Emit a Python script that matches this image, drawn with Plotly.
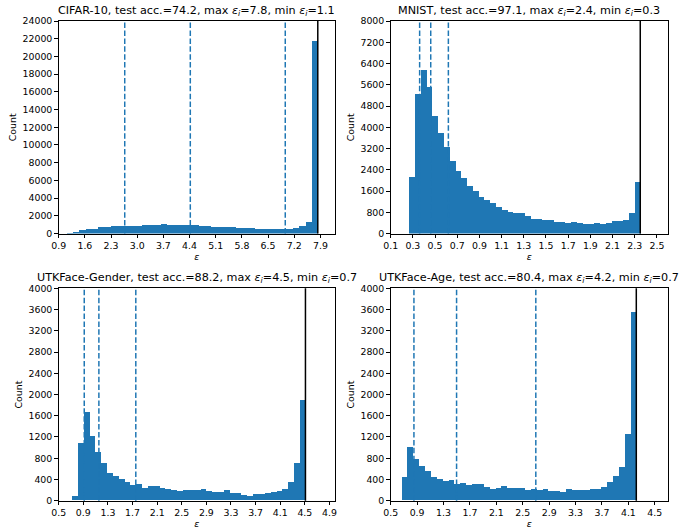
import plotly.graph_objects as go
import numpy as np

# counts per bin (40 bins each)
cifar_counts = [50, 170, 395, 508, 508, 733, 733, 846, 846, 846,
                846, 846, 959, 959, 959, 1072, 997, 997, 997, 997,
                997, 846, 846, 733, 733, 733, 733, 620, 620, 620,
                508, 508, 508, 508, 508, 470, 583, 808, 1297, 21740]
mnist_counts = [2119, 5242, 6145, 5505, 4414, 3775, 3248, 2721, 2345, 2082,
                1781, 1593, 1367, 1254, 1141, 991, 878, 803, 765, 765,
                652, 564, 564, 510, 500, 426, 426, 389, 426, 389,
                351, 351, 389, 351, 389, 464, 464, 502, 777, 1931]
gender_counts = [88, 1080, 1660, 1210, 912, 706, 519, 462, 406, 350,
                 294, 300, 238, 262, 269, 238, 219, 187, 169, 187,
                 200, 200, 212, 181, 162, 162, 200, 144, 131, 106,
                 88, 125, 125, 144, 162, 181, 219, 344, 706, 1890]
age_counts = [437, 1006, 781, 650, 556, 444, 406, 369, 387, 312,
              331, 294, 312, 312, 256, 219, 238, 275, 238, 238,
              238, 200, 219, 200, 219, 181, 181, 162, 219, 200,
              200, 200, 219, 219, 256, 350, 462, 631, 1250, 3548]

# epsilon range of each histogram (min eps, max eps)
cifar_eps = [1.105, 7.83]
mnist_eps = [0.265, 2.35]
gender_eps = [0.711, 4.51]
age_eps = [0.66, 4.22]

# dashed vertical markers
cifar_marks = [2.666, 4.42, 6.96]
mnist_marks = [0.361, 0.461, 0.62]
gender_marks = [0.915, 1.153, 1.753]
age_marks = [0.852, 1.498, 2.698]

titles = [
    'CIFAR-10, test acc.=74.2, max <i>ε<sub>i</sub></i>=7.8, min <i>ε<sub>i</sub></i>=1.1',
    'MNIST, test acc.=97.1, max <i>ε<sub>i</sub></i>=2.4, min <i>ε<sub>i</sub></i>=0.3',
    'UTKFace-Gender, test acc.=88.2, max <i>ε<sub>i</sub></i>=4.5, min <i>ε<sub>i</sub></i>=0.7',
    'UTKFace-Age, test acc.=80.4, max <i>ε<sub>i</sub></i>=4.2, min <i>ε<sub>i</sub></i>=0.7',
]

cifar_xticks = [0.9, 1.6, 2.3, 3.0, 3.7, 4.4, 5.1, 5.8, 6.5, 7.2, 7.9]
mnist_xticks = [0.1, 0.3, 0.5, 0.7, 0.9, 1.1, 1.3, 1.5, 1.7, 1.9, 2.1, 2.3, 2.5]
gender_xticks = [0.5, 0.9, 1.3, 1.7, 2.1, 2.5, 2.9, 3.3, 3.7, 4.1, 4.5, 4.9]
age_xticks = [0.5, 0.9, 1.3, 1.7, 2.1, 2.5, 2.9, 3.3, 3.7, 4.1, 4.5]

cifar_yticks = list(range(0, 24001, 2000))
mnist_yticks = list(range(0, 8001, 800))
utk_yticks = list(range(0, 4001, 400))

blue = '#1f77b4'
font = 'DejaVu Sans'

panels = [
    dict(counts=cifar_counts, eps=cifar_eps, marks=cifar_marks, xticks=cifar_xticks,
         yticks=cifar_yticks, xr=[0.9, 8.29], yr=[0, 24000],
         xd=[0.0862, 0.4919], yd=[0.5586, 0.9603]),
    dict(counts=mnist_counts, eps=mnist_eps, marks=mnist_marks, xticks=mnist_xticks,
         yticks=mnist_yticks, xr=[0.1, 2.6], yr=[0, 8000],
         xd=[0.5737, 0.9809], yd=[0.5586, 0.9603]),
    dict(counts=gender_counts, eps=gender_eps, marks=gender_marks, xticks=gender_xticks,
         yticks=utk_yticks, xr=[0.5, 4.99], yr=[0, 4000],
         xd=[0.0862, 0.4919], yd=[0.0535, 0.4550]),
    dict(counts=age_counts, eps=age_eps, marks=age_marks, xticks=age_xticks,
         yticks=utk_yticks, xr=[0.5, 4.70], yr=[0, 4000],
         xd=[0.5737, 0.9809], yd=[0.0535, 0.4550]),
]

fig = go.Figure()
layout = {}
annotations = []
shapes = []

for i, p in enumerate(panels):
    n = '' if i == 0 else str(i + 1)
    xa, ya = 'x' + n, 'y' + n
    edges = np.linspace(p['eps'][0], p['eps'][1], len(p['counts']) + 1)
    centers = (edges[:-1] + edges[1:]) / 2
    fig.add_trace(go.Bar(
        x=centers, y=p['counts'], width=edges[1] - edges[0],
        marker=dict(color=blue, line=dict(width=0)),
        xaxis=xa, yaxis=ya, showlegend=False,
    ))

    for m in p['marks']:
        shapes.append(dict(type='line', xref=xa, yref=ya + ' domain',
                           x0=m, x1=m, y0=0, y1=1,
                           line=dict(color=blue, width=1.5, dash='5.5px,2.4px')))
    shapes.append(dict(type='line', xref=xa, yref=ya + ' domain',
                       x0=p['eps'][1], x1=p['eps'][1], y0=0, y1=1,
                       line=dict(color='black', width=1.5)))

    axis_common = dict(
        showline=True, linecolor='black', linewidth=1, mirror=True,
        ticks='outside', ticklen=3.5, tickwidth=1, tickcolor='black',
        showgrid=False, zeroline=False, automargin=False,
        tickfont=dict(family=font, size=9.4, color='black'),
    )
    layout['xaxis' + n] = dict(
        axis_common, domain=p['xd'], anchor=ya, range=p['xr'],
        tickmode='array', tickvals=p['xticks'],
        ticktext=['%.1f' % t for t in p['xticks']],
        title=dict(text='<i>ε</i>', font=dict(family=font, size=9.4, color='black'),
                   standoff=3),
    )
    layout['yaxis' + n] = dict(
        axis_common, domain=p['yd'], anchor=xa, range=p['yr'],
        tickmode='array', tickvals=p['yticks'],
        ticktext=[str(t) for t in p['yticks']],
        title=dict(text='Count', font=dict(family=font, size=9.4, color='black'),
                   standoff=4),
    )
    annotations.append(dict(
        xref='paper', yref='paper', x=(p['xd'][0] + p['xd'][1]) / 2, y=p['yd'][1],
        xanchor='center', yanchor='bottom', yshift=1, showarrow=False,
        text=titles[i], font=dict(family=font, size=11.2, color='black'),
    ))

fig.update_layout(
    width=681, height=529,
    margin=dict(l=0, r=0, t=0, b=0),
    plot_bgcolor='white', paper_bgcolor='white',
    bargap=0, showlegend=False,
    annotations=annotations, shapes=shapes,
    **layout
)

# drop the default page margin so the figure sits at the window's corner
fig.write_html("out.html", config={'displayModeBar': False},
               post_script="document.body.style.margin='0';")
